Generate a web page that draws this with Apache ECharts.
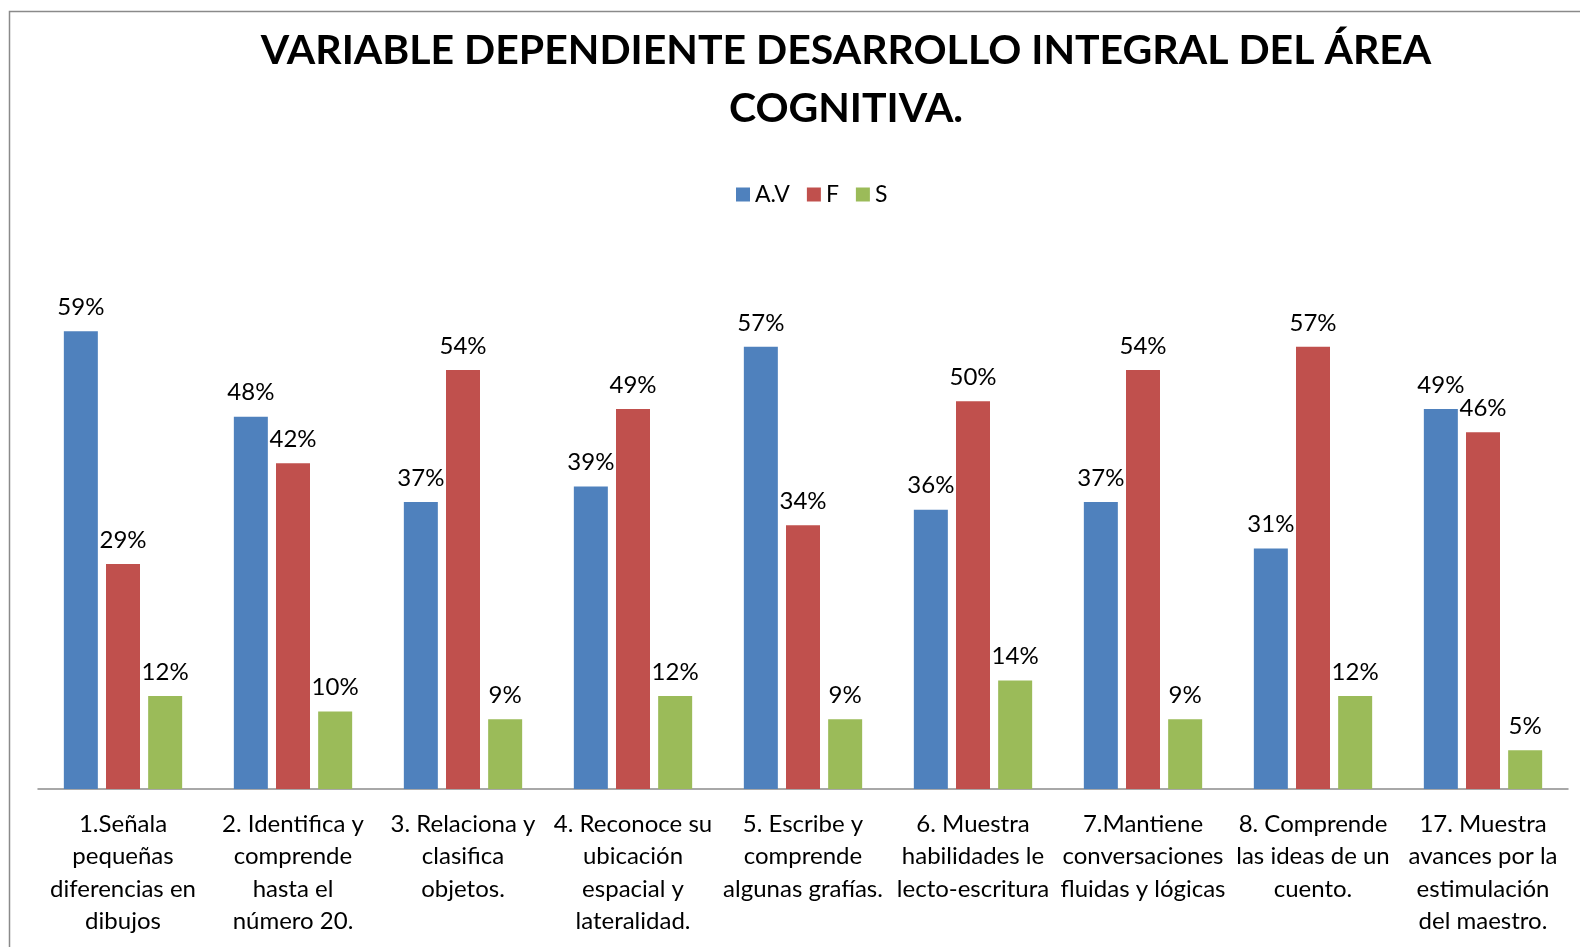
<!DOCTYPE html>
<html>
<head>
<meta charset="utf-8">
<script src="https://cdn.jsdelivr.net/npm/echarts@6/dist/echarts.min.js"></script>
<style>
  html, body { margin: 0; padding: 0; background: #fff; }
  #chart { width: 1580px; height: 947px; }
</style>
</head>
<body>
<div id="chart"></div>
<script>
var categories = [
  '1.Señala\npequeñas\ndiferencias en\ndibujos',
  '2. Identifica y\ncomprende\nhasta el\nnúmero 20.',
  '3. Relaciona y\nclasifica\nobjetos.',
  '4. Reconoce su\nubicación\nespacial y\nlateralidad.',
  '5. Escribe y\ncomprende\nalgunas grafías.',
  '6. Muestra\nhabilidades le\nlecto-escritura',
  '7.Mantiene\nconversaciones\nfluidas y lógicas',
  '8. Comprende\nlas ideas de un\ncuento.',
  '17. Muestra\navances por la\nestimulación\ndel maestro.'
];
var serieAV = [59, 48, 37, 39, 57, 36, 37, 31, 49];
var serieF = [29, 42, 54, 49, 34, 50, 54, 57, 46];
var serieS = [12, 10, 9, 12, 9, 14, 9, 12, 5];

var FONT = 'Lato, "Open Sans", sans-serif';

function barSerie(name, data, color) {
  return {
    name: name,
    type: 'bar',
    data: data,
    barWidth: 34,
    barGap: '24%',
    itemStyle: { color: color },
    label: {
      show: true,
      position: 'top',
      distance: 12,
      formatter: '{c}%',
      color: '#000',
      fontFamily: FONT,
      fontSize: 24
    }
  };
}

echarts.init(document.getElementById('chart')).setOption({
  backgroundColor: '#fff',
  animation: false,
  graphic: [
    {
      type: 'rect',
      shape: { x: 9.5, y: 11.5, width: 1700, height: 1100 },
      style: { fill: 'none', stroke: '#8a8a8a', lineWidth: 1.5 }
    },
    {
      type: 'text',
      x: 846,
      y: 22,
      style: {
        text: 'VARIABLE DEPENDIENTE DESARROLLO INTEGRAL DEL ÁREA\nCOGNITIVA.',
        fill: '#000',
        font: 'bold 41px ' + FONT,
        textAlign: 'center',
        lineHeight: 58
      }
    }
  ],
  legend: {
    top: 178,
    left: 731,
    itemWidth: 14,
    itemHeight: 14,
    itemGap: 17,
    icon: 'rect',
    textStyle: { fontFamily: FONT, fontSize: 23, color: '#000' },
    data: ['A.V', 'F', 'S']
  },
  grid: {
    left: 38,
    right: 12,
    top: 246,
    bottom: 158,
    containLabel: false
  },
  xAxis: {
    type: 'category',
    data: categories,
    axisLine: { lineStyle: { color: '#8c8c8c', width: 1.5 } },
    axisTick: { show: false },
    axisLabel: {
      interval: 0,
      margin: 19,
      color: '#000',
      fontFamily: FONT,
      fontSize: 24,
      lineHeight: 32.5
    }
  },
  yAxis: {
    type: 'value',
    min: 0,
    max: 70,
    show: false,
    splitLine: { show: false }
  },
  series: [
    barSerie('A.V', serieAV, '#4F81BD'),
    barSerie('F', serieF, '#C0504D'),
    barSerie('S', serieS, '#9BBB59')
  ]
});
</script>
</body>
</html>
